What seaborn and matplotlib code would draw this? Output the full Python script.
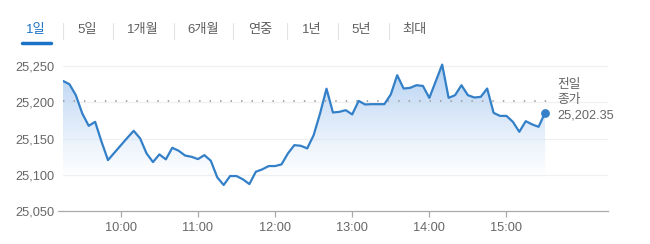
import numpy as np
import pandas as pd
import matplotlib
matplotlib.use("Agg")
import matplotlib.pyplot as plt
import matplotlib.dates as mdates
from matplotlib.colors import LinearSegmentedColormap
import seaborn as sns

# ---- data ----
tabs = ["1일", "5일", "1개월", "6개월", "연중", "1년", "5년", "최대"]
start_time = "2024-01-02 09:15"
interval = "5min"
prices = [
    25229.7, 25225.2, 25210.0, 25184.8, 25167.7, 25173.2, 25145.6, 25120.3,
    25130.6, 25140.8, 25151.0, 25160.8, 25150.3, 25129.6, 25117.6, 25128.2,
    25121.3, 25137.3, 25133.2, 25126.6, 25124.9, 25121.7, 25127.2, 25119.4,
    25096.5, 25085.9, 25098.3, 25098.3, 25093.7, 25087.2, 25104.2, 25107.5,
    25112.1, 25112.1, 25114.4, 25129.6, 25141.0, 25140.1, 25136.5, 25154.8,
    25184.8, 25219.0, 25186.1, 25187.0, 25189.3, 25183.4, 25202.1, 25197.2,
    25197.6, 25197.6, 25197.6, 25211.0, 25237.6, 25219.2, 25220.1, 25223.8,
    25222.8, 25206.3, 25229.3, 25252.3, 25206.3, 25210.0, 25223.8, 25210.0,
    25206.8, 25207.7, 25219.2, 25185.6, 25181.4, 25181.4, 25173.2, 25159.4,
    25174.1, 25169.6, 25166.3, 25185.6,
]
prev_close = 25202.35
prev_close_label = ["전일", "종가", "25,202.35"]
y_ticks = [25050, 25100, 25150, 25200, 25250]
x_tick_labels = ["10:00", "11:00", "12:00", "13:00", "14:00", "15:00"]

times = pd.date_range(start_time, periods=len(prices), freq=interval)
df = pd.DataFrame({"time": times, "price": prices})

# ---- style ----
sns.set_theme(style="white")
plt.rcParams["font.family"] = ["Liberation Sans", "Noto Sans CJK KR"]

W, H = 650, 244
fig = plt.figure(figsize=(W / 100, H / 100), dpi=100)
ax = fig.add_axes([63 / W, (H - 211) / H, (608 - 63) / W, (211 - 59) / H])

line_color = "#3380c8"
text_color = "#666666"

sns.lineplot(data=df, x="time", y="price", ax=ax, color=line_color, lw=1.6)

day = times[0].normalize()
x0 = mdates.date2num(times[0])
x1 = mdates.date2num(day + pd.Timedelta(hours=16, minutes=19))
ax.set_xlim(x0, x1)
ax.set_ylim(25050, 25260)

# gradient fill under line
xs = mdates.date2num(df["time"])
poly = ax.fill_between(xs, df["price"], 25050, color="none", lw=0)
cmap = LinearSegmentedColormap.from_list(
    "g", [(0.80, 0.88, 0.97, 0.0), (0.76, 0.85, 0.96, 0.55), (0.70, 0.82, 0.95, 1.0)]
)
grad = np.linspace(0, 1, 256).reshape(-1, 1)
img = ax.imshow(grad, cmap=cmap, aspect="auto", origin="lower",
                extent=[xs[0], xs[-1], 25095, 25252], zorder=0.5)
img.set_clip_path(poly.get_paths()[0], transform=ax.transData)

# previous close dotted line
ax.plot([xs[0], xs[-1] + (xs[1] - xs[0]) * 0.7], [prev_close, prev_close],
        color="#a0a0a0", lw=1.3, ls=(0, (0.8, 5)), zorder=1)

# end marker
ax.scatter([xs[-1]], [prices[-1]], s=28, color=line_color, zorder=5)

# grid
for v in y_ticks[1:]:
    ax.axhline(v, color="#f0f0f0", lw=0.9, zorder=0)

ax.set_yticks(y_ticks)
ax.set_yticklabels([f"{v:,}" for v in y_ticks])
xt = [mdates.date2num(day + pd.Timedelta(hours=int(s.split(":")[0]))) for s in x_tick_labels]
ax.set_xticks(xt)
ax.set_xticklabels(x_tick_labels)
ax.tick_params(axis="y", length=0, pad=6, labelsize=9.2, labelcolor=text_color)
ax.tick_params(axis="x", length=4, width=0.9, color="#aaaaaa", pad=4,
               labelsize=9.2, labelcolor=text_color, bottom=True)
ax.set_xlabel("")
ax.set_ylabel("")
for s in ["top", "right", "left"]:
    ax.spines[s].set_visible(False)
ax.spines["bottom"].set_color("#aaaaaa")
ax.spines["bottom"].set_linewidth(0.9)
# small left extension of baseline
fig.add_artist(plt.Line2D([58 / W, 63 / W], [(H - 211) / H] * 2,
                          color="#aaaaaa", lw=0.9))

# prev close label
for txt, yp in zip(prev_close_label, [85, 100, 115]):
    fig.text(557 / W, 1 - yp / H, txt, ha="left", va="center",
             fontsize=9.2, color=text_color)

# tabs
tab_x = [36, 87, 143, 203, 260, 312, 361, 414]
for i, (t, xp) in enumerate(zip(tabs, tab_x)):
    fig.text(xp / W, 1 - 30 / H, t, ha="center", va="center", fontsize=9.5,
             color="#1a73c8" if i == 0 else "#5f5f5f")
for sx in [63, 113, 174, 233, 287, 338, 389]:
    fig.add_artist(plt.Line2D([sx / W] * 2, [1 - 23 / H, 1 - 39 / H],
                              color="#e3e3e3", lw=0.8))
fig.add_artist(plt.Line2D([22 / W, 51 / W], [1 - 42.5 / H] * 2,
                          color="#1a73c8", lw=2.5, solid_capstyle="round"))

fig.savefig("out.png", dpi=100)
